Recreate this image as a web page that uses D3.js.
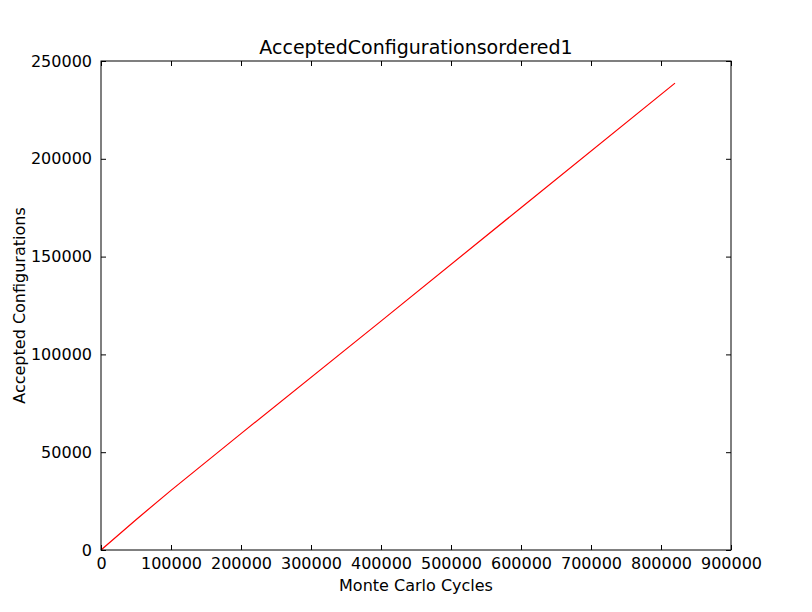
<!DOCTYPE html>
<html><head><meta charset="utf-8">
<script src="https://cdn.jsdelivr.net/npm/d3@7"></script>
<style>body{margin:0;background:#fff}</style>
</head><body>
<svg id="c" width="812" height="612"></svg>
<script>
const cycles = [0, 50000, 100000, 200000, 400000, 600000, 820000];
const accepted = [0, 15500, 30500, 59500, 117000, 175000, 238700];
const xTicks = [0,100000,200000,300000,400000,500000,600000,700000,800000,900000];
const yTicks = [0,50000,100000,150000,200000,250000];
const title = "AcceptedConfigurationsordered1";
const xLabel = "Monte Carlo Cycles";
const yLabel = "Accepted Configurations";

const svg = d3.select("#c");
const L=101,R=731,T=61,B=550;
const x = d3.scaleLinear().domain([0,900000]).range([L,R]);
const y = d3.scaleLinear().domain([0,250000]).range([B,T]);
const font = "DejaVu Sans, sans-serif";

svg.append("path").datum(cycles.map((c,i)=>[c,accepted[i]]))
  .attr("fill","none").attr("stroke","#ff0000").attr("stroke-width",1.2)
  .attr("d", d3.line().x(d=>x(d[0])).y(d=>y(d[1])));

function ax(gen, tr, labels){
  const g = svg.append("g").attr("transform",tr).call(gen);
  g.select(".domain").remove();
  g.selectAll("line").attr("stroke","#000");
  g.selectAll("text").style("font-family",font).style("font-size","16px").attr("fill","#000");
  if(!labels) g.selectAll("text").remove();
}
ax(d3.axisBottom(x).tickValues(xTicks).tickSize(-5).tickPadding(8).tickFormat(d3.format("d")), `translate(0,${B})`, true);
ax(d3.axisTop(x).tickValues(xTicks).tickSize(-5), `translate(0,${T})`, false);
ax(d3.axisLeft(y).tickValues(yTicks).tickSize(-5).tickPadding(9).tickFormat(d3.format("d")), `translate(${L},0)`, true);
ax(d3.axisRight(y).tickValues(yTicks).tickSize(-5), `translate(${R},0)`, false);

svg.append("rect").attr("x",L).attr("y",T).attr("width",R-L).attr("height",B-T)
  .attr("fill","none").attr("stroke","#000").attr("stroke-width",1);

svg.append("text").attr("x",(L+R)/2).attr("y",54).attr("text-anchor","middle")
  .style("font-family",font).style("font-size","19px").text(title);
svg.append("text").attr("x",(L+R)/2).attr("y",591).attr("text-anchor","middle")
  .style("font-family",font).style("font-size","16px").text(xLabel);
svg.append("text").attr("transform",`translate(25,${(T+B)/2}) rotate(-90)`).attr("text-anchor","middle")
  .style("font-family",font).style("font-size","16px").text(yLabel);
</script>
</body></html>
